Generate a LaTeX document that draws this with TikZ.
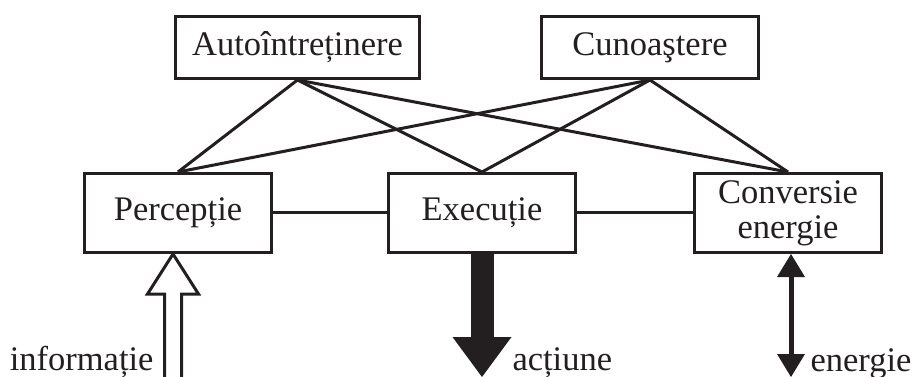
\documentclass[tikz,border=0pt]{standalone}
\usepackage{fontspec}
\setmainfont{Liberation Serif}
\usetikzlibrary{positioning,arrows.meta}
\definecolor{ink}{HTML}{231F20}
\begin{document}
\begin{tikzpicture}[x=1pt, y=-1pt, color=ink, line width=3pt,
  box/.style={draw, rectangle, inner sep=0pt, align=center, font=\fontsize{34.5}{35}\selectfont},
  lbl/.style={inner sep=0pt, font=\fontsize{34.5}{35}\selectfont}]
\useasboundingbox (0,0) rectangle (914,377);
\node (auto) [box, minimum width=244pt, minimum height=62pt] at (297.5,47.5) {Autoîntreținere};
\node (cuno) [box, minimum width=217pt, minimum height=62pt] at (650,47.5) {Cunoaştere};
\node (perc) [box, minimum width=187pt, minimum height=79pt] at (178,213) {Percepție};
\node (exec) [box, minimum width=187pt, minimum height=79pt, right=114pt of perc] {Execuție};
\node (conv) [box, minimum width=187pt, minimum height=79pt, right=116pt of exec] {Conversie\\energie};
% legaturi intre niveluri
\draw (auto.south)--(perc.north);
\draw (auto.south)--(exec.north);
\draw (auto.south)--(conv.north);
\draw (cuno.south)--(perc.north);
\draw (cuno.south)--(exec.north);
\draw (cuno.south)--(conv.north);
\draw (perc.east)--(exec.west);
\draw (exec.east)--(conv.west);
% intrari / iesiri
\coordinate (infobot) at (173,377);
\coordinate (actbot) at (482,377);
\coordinate (enbot) at (791,377);
\draw [fill=white, line join=miter] (164.5,377) -- (164.5,294) -- (147.5,294) -- ([xshift=-5pt]perc.south) -- (198.5,294) -- (181.5,294) -- (181.5,377);
\draw [line width=23pt, -{Triangle[width=59pt, length=40pt, line width=0pt]}] (exec.south)--(actbot);
\draw [line width=5pt, {Triangle[width=28pt, length=23pt, line width=0pt]}-{Triangle[width=28pt, length=23pt, line width=0pt]}] ([xshift=3pt]conv.south)--(enbot);
\node (info) [lbl, anchor=base east] at (155,370) {informație};
\node (act) [lbl, anchor=base west] at (511,370) {acțiune};
\node (en) [lbl, anchor=base west] at (809,371) {energie};
\end{tikzpicture}
\end{document}
